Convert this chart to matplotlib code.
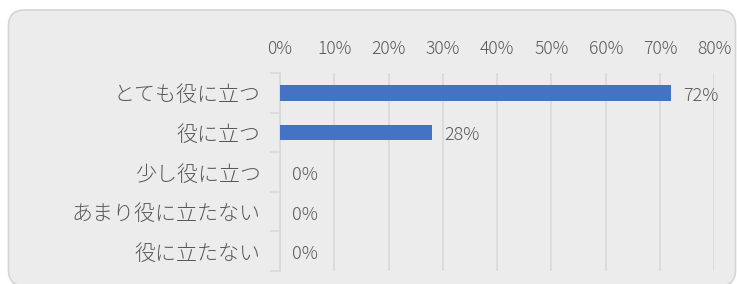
import matplotlib
matplotlib.use("Agg")
import matplotlib.pyplot as plt
from matplotlib.patches import FancyBboxPatch
import numpy as np

plt.rcParams['font.family'] = ['Noto Sans CJK JP', 'DejaVu Sans']

categories = ["とても役に立つ", "役に立つ", "少し役に立つ", "あまり役に立たない", "役に立たない"]
values = [0.72, 0.28, 0.0, 0.0, 0.0]
value_labels = ["72%", "28%", "0%", "0%", "0%"]
xticks = [0, 0.1, 0.2, 0.3, 0.4, 0.5, 0.6, 0.7, 0.8]
xtick_labels = ["0%", "10%", "20%", "30%", "40%", "50%", "60%", "70%", "80%"]

W, H = 737, 284
fig = plt.figure(figsize=(W / 100, H / 100), dpi=100)
fig.patch.set_facecolor("white")

# background rounded panel
bg = fig.add_axes([0, 0, 1, 1])
bg.set_xlim(0, W)
bg.set_ylim(H, 0)
bg.axis("off")
bg.add_patch(FancyBboxPatch((8.5, 10), 727, 276,
                            boxstyle="round,pad=0,rounding_size=16",
                            facecolor="#ececec", edgecolor="#d4d4d4", linewidth=1.2))

text_color = "#595959"
grid_color = "#d9d9d9"

ax = fig.add_axes([280 / W, 1 - 271 / H, (714.3 - 280) / W, (271 - 73) / H])
ax.set_facecolor("none")
y = np.arange(len(categories))
ax.barh(y, values, height=0.39, color="#4472c4", edgecolor="none", zorder=3)

ax.set_xlim(0, 0.8)
ax.set_ylim(len(categories) - 0.5, -0.5)

ax.xaxis.tick_top()
ax.set_xticks(xticks)
ax.set_xticklabels(xtick_labels, fontsize=12.6, color=text_color, fontweight="light")
ax.tick_params(axis="x", length=0, pad=11)
ax.grid(axis="x", color=grid_color, linewidth=1.2, zorder=0)

ax.set_yticks(y)
ax.set_yticklabels(categories, fontsize=15.1, color=text_color, fontweight="light")
ax.tick_params(axis="y", which="major", length=0, pad=14)
ax.set_yticks(np.arange(len(categories) + 1) - 0.5, minor=True)
ax.tick_params(axis="y", which="minor", length=7, width=1.2, color=grid_color)

for s in ["top", "right", "bottom"]:
    ax.spines[s].set_visible(False)
ax.spines["left"].set_color(grid_color)
ax.spines["left"].set_linewidth(1.2)

for yi, v, lab in zip(y, values, value_labels):
    ax.annotate(lab, (v, yi), xytext=(12, -3), textcoords="offset pixels",
                ha="left", va="center", fontsize=13, color=text_color, fontweight="light")

fig.savefig("out.png", dpi=100)
